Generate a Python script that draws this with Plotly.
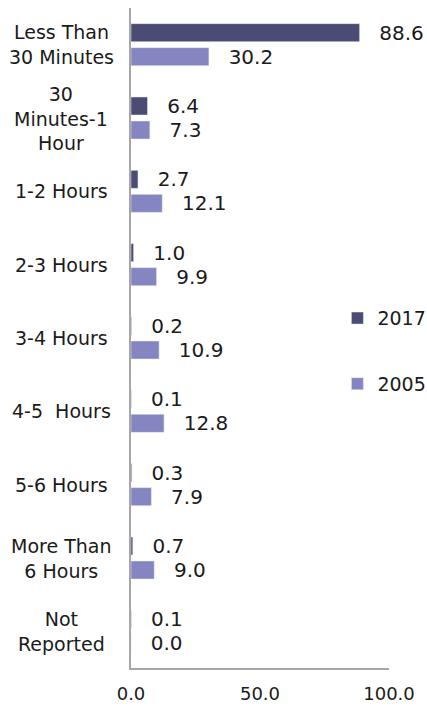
import plotly.graph_objects as go

categories = ["Less Than<br>30 Minutes", "30<br>Minutes-1<br>Hour", "1-2 Hours", "2-3 Hours",
              "3-4 Hours", "4-5  Hours", "5-6 Hours", "More Than<br>6 Hours", "Not<br>Reported"]
values_2017 = [88.6, 6.4, 2.7, 1.0, 0.2, 0.1, 0.3, 0.7, 0.1]
values_2005 = [30.2, 7.3, 12.1, 9.9, 10.9, 12.8, 7.9, 9.0, 0.0]
x_ticks = [0, 50, 100]

font_family = "DejaVu Sans, Verdana, sans-serif"
pad = "\u00a0\u00a0\u2009"

fig = go.Figure()
fig.add_trace(go.Bar(
    y=categories, x=values_2017, orientation="h", name="2017",
    marker=dict(color="#4b4b73"), legendgroup="a",
    text=values_2017, texttemplate=pad + "%{x:.1f}", textposition="outside",
    textfont=dict(size=20, color="#1a1a1a", family=font_family),
    constraintext="none", cliponaxis=False,
))
fig.add_trace(go.Bar(
    y=categories, x=values_2005, orientation="h", name="2005",
    marker=dict(color="#8585c2"), legendgroup="b",
    text=values_2005, texttemplate=pad + "%{x:.1f}", textposition="outside",
    textfont=dict(size=20, color="#1a1a1a", family=font_family),
    constraintext="none", cliponaxis=False,
))

for c in categories:
    fig.add_annotation(text=c, x=-0.271, xref="paper", y=c, yref="y",
                       xanchor="center", yanchor="middle", align="center",
                       showarrow=False, font=dict(size=19, color="#1a1a1a", family=font_family))

fig.update_layout(
    width=427, height=709,
    margin=dict(l=131, r=38, t=8, b=41, autoexpand=False),
    paper_bgcolor="white", plot_bgcolor="white",
    barmode="group", bargap=0.345, bargroupgap=0.25,
    font=dict(family=font_family, size=18, color="#1a1a1a"),
    showlegend=True,
    legend=dict(x=0.80, y=0.48, xanchor="left", yanchor="middle",
                tracegroupgap=38, font=dict(size=19, color="#1a1a1a"),
                bgcolor="rgba(0,0,0,0)"),
    xaxis=dict(range=[0, 100], tickvals=x_ticks, tickformat=".1f",
               showgrid=False, zeroline=False, showline=True, linecolor="#a6a6a6",
               linewidth=2, ticks="", ticklabelstandoff=8,
               tickfont=dict(size=18, color="#1a1a1a")),
    yaxis=dict(autorange="reversed", showticklabels=False, showgrid=False,
               showline=True, linecolor="#a6a6a6", linewidth=2, ticks=""),
)

fig.write_html("out.html",
               config={"displayModeBar": False},
               post_script="document.body.style.margin='0';document.body.style.overflow='hidden';")
